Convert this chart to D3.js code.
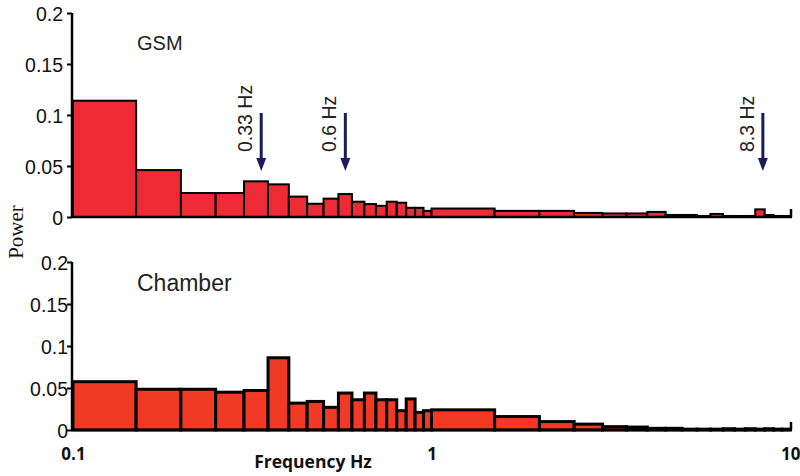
<!DOCTYPE html>
<html><head><meta charset="utf-8">
<script src="https://cdn.jsdelivr.net/npm/d3@7/dist/d3.min.js"></script>
<style>body{margin:0;background:#fff}svg{display:block}</style>
</head><body>
<svg id="chart" width="800" height="476"></svg>
<script>
// Bin edges (Hz)
const edges = [0.1,0.15,0.2,0.25,0.3,0.35,0.4,0.45,0.5,0.55,0.6,0.65,0.7,0.75,0.8,0.85,0.9,0.95,
  1.0,1.5,2.0,2.5,3.0,3.5,4.0,4.5,5.0,5.5,6.0,6.5,7.0,7.5,8.0,8.5,9.0,9.5,10];
const gsmPower = [0.114,0.046,0.0235,0.0235,0.035,0.032,0.020,0.013,0.018,0.0225,0.015,0.0127,0.011,0.015,0.014,0.009,0.009,0.006,
  0.0083,0.006,0.006,0.004,0.0035,0.0035,0.005,0.002,0.002,0.001,0.003,0.001,0.001,0.001,0.0075,0.002,0.001,0.001];
const chamberPower = [0.0575,0.0485,0.0485,0.045,0.047,0.086,0.032,0.034,0.027,0.044,0.036,0.044,0.036,0.036,0.023,0.037,0.021,0.023,
  0.024,0.016,0.010,0.007,0.004,0.0035,0.002,0.002,0.001,0.001,0.001,0.0015,0.001,0.0015,0.001,0.0015,0.001,0.001];
const yTicks = [0,0.05,0.1,0.15,0.2];
const yTickLabels = ["0","0.05","0.1","0.15","0.2"];
const xTicks = [0.1,1,10];
const xTickLabels = ["0.1","1","10"];
const peakFreq = [0.335,0.575,8.4];
const peakLabels = ["0.33 Hz","0.6 Hz","8.3 Hz"];

const svg = d3.select("#chart");
const x = d3.scaleLog().domain([0.1,10]).range([73,790]);

const panels = [
  {name:"GSM", values:gsmPower, y:d3.scaleLinear().domain([0,0.2]).range([217,13]),
   fill:"#ee2a35", sw:2, title:{x:137,y:50,size:20}, labelRight:63},
  {name:"Chamber", values:chamberPower, y:d3.scaleLinear().domain([0,0.2]).range([430,262]),
   fill:"#f03a24", sw:3, title:{x:137,y:291,size:23}, labelRight:68}
];

const bins = edges.slice(0,-1).map((lo,i)=>({lo, hi:edges[i+1], i}));

panels.forEach((p,pi)=>{
  const g = svg.append("g");
  g.selectAll("rect.bar").data(bins).join("rect")
    .attr("class","bar")
    .attr("x",d=>x(d.lo))
    .attr("width",d=>x(d.hi)-x(d.lo))
    .attr("y",d=>p.y(p.values[d.i]))
    .attr("height",d=>p.y(0)-p.y(p.values[d.i]))
    .attr("fill",p.fill)
    .attr("stroke","#000")
    .attr("stroke-width",p.sw)
    .attr("stroke-linejoin","miter");
  g.append("line").attr("x1",x(0.1)-1).attr("x2",x(10)+2)
    .attr("y1",p.y(0)).attr("y2",p.y(0))
    .attr("stroke","#000").attr("stroke-width",2.5);
  g.append("line").attr("x1",x(10)+1).attr("x2",x(10)+1)
    .attr("y1",p.y(0)).attr("y2",p.y(0)-8)
    .attr("stroke","#000").attr("stroke-width",2.5);
  const ax = d3.axisLeft(p.y).tickValues(yTicks).tickSize(5)
     .tickFormat((d,i)=>yTickLabels[i]);
  const ag = g.append("g").attr("transform",`translate(${x(0.1)-1},0)`).call(ax);
  ag.select(".domain").attr("stroke","#000").attr("stroke-width",2.5)
    .attr("d",`M0,${p.y(0)+1}V${p.y(0.2)}`);
  ag.selectAll(".tick line").attr("stroke","#000").attr("stroke-width",2);
  ag.selectAll(".tick text").attr("x",-(x(0.1)-1-p.labelRight)).attr("dy","0.36em")
    .attr("font-family","'Liberation Sans',Arial,sans-serif").attr("font-size",19.5).attr("fill","#111");
  g.append("text").attr("x",p.title.x).attr("y",p.title.y).text(p.name)
    .attr("font-family","'Liberation Sans',Arial,sans-serif").attr("font-size",p.title.size).attr("fill","#222");
});

const xa = d3.axisBottom(x).tickValues(xTicks).tickSize(0).tickFormat((d,i)=>xTickLabels[i]);
const xg = svg.append("g").attr("transform","translate(0,445)").call(xa);
xg.select(".domain").remove();
xg.selectAll(".tick text").attr("font-family","'Open Sans',sans-serif").attr("font-weight","bold")
  .attr("font-size",17).attr("fill","#111").attr("dy","0.71em");
xg.selectAll(".tick text").filter((d,i)=>i===2).attr("text-anchor","end").attr("dx",10);

svg.append("text").attr("x",313).attr("y",468).attr("text-anchor","middle")
  .attr("font-family","'Open Sans',sans-serif").attr("font-weight","bold").attr("font-size",17.5)
  .attr("fill","#111").text("Frequency Hz");

svg.append("text").attr("transform","translate(23,232) rotate(-90)").attr("text-anchor","middle")
  .attr("font-family","'Liberation Serif','Times New Roman',serif").attr("font-size",21)
  .attr("fill","#111").text("Power");

const ann = svg.append("g");
peakFreq.forEach((f,i)=>{
  const ax0 = x(f);
  ann.append("line").attr("x1",ax0).attr("x2",ax0).attr("y1",113).attr("y2",160)
    .attr("stroke","#1b1d5a").attr("stroke-width",3);
  ann.append("path").attr("d",`M${ax0-5},158L${ax0+5},158L${ax0},171Z`).attr("fill","#1b1d5a");
  ann.append("text").attr("transform",`translate(${ax0-9},152) rotate(-90)`)
    .attr("font-family","'Liberation Sans',Arial,sans-serif").attr("font-size",19.5)
    .attr("fill","#222").text(peakLabels[i]);
});
</script>
</body></html>
